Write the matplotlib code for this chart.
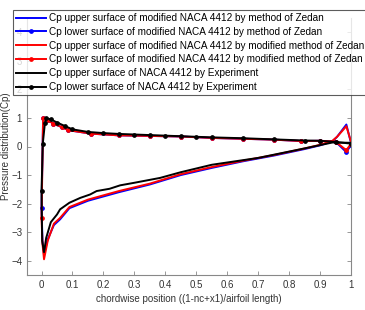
"""
Cp distribution of NACA 4412 vs modified NACA 4412 (method of Zedan).
"""

import matplotlib
matplotlib.use("Agg")
import matplotlib.pyplot as plt

plt.rcParams["font.family"] = ["Liberation Sans", "DejaVu Sans"]

# --- data ------------------------------------------------------------------
# method of Zedan (blue)
x_zedan_up = [0, 0.003, 0.008, 0.02, 0.04, 0.06, 0.09, 0.15, 0.25, 0.35,
              0.45, 0.55, 0.65, 0.75, 0.85, 0.9, 0.94, 0.955, 0.985, 1.0]
cp_zedan_up = [-2.15, -3.3, -3.78, -3.25, -2.75, -2.55, -2.16, -1.9, -1.6,
               -1.33, -1.0, -0.75, -0.52, -0.32, -0.09, 0.04, 0.18, 0.34,
               0.77, 0.12]
x_zedan_lo = [0, 0.005, 0.02, 0.038, 0.065, 0.087, 0.16, 0.25, 0.35, 0.45,
              0.55, 0.65, 0.75, 0.84, 0.9, 0.95, 0.985, 1.0]
cp_zedan_lo = [-2.15, 1.0, 0.93, 0.8, 0.68, 0.57, 0.45, 0.39, 0.37, 0.35,
               0.3, 0.27, 0.24, 0.19, 0.2, 0.17, -0.2, 0.05]

# modified method of Zedan (red)
x_mod_up = x_zedan_up
cp_mod_up = [-2.5, -3.4, -3.95, -3.3, -2.7, -2.5, -2.12, -1.86, -1.56, -1.3,
             -0.97, -0.72, -0.5, -0.3, -0.07, 0.06, 0.2, 0.34, 0.71, 0.17]
x_mod_lo = x_zedan_lo
cp_mod_lo = [-2.5, 1.0, 0.93, 0.8, 0.68, 0.57, 0.45, 0.39, 0.37, 0.35,
             0.3, 0.27, 0.24, 0.19, 0.2, 0.17, -0.13, 0.1]

# experiment (black)
x_exp_up = [0, 0.002, 0.008, 0.015, 0.03, 0.05, 0.06, 0.09, 0.125, 0.157,
            0.178, 0.22, 0.254, 0.3, 0.383, 0.45, 0.55, 0.7, 0.835, 0.94, 1.0]
cp_exp_up = [-1.55, -3.3, -3.7, -3.2, -2.65, -2.38, -2.2, -1.97, -1.8, -1.68,
             -1.56, -1.48, -1.36, -1.27, -1.1, -0.9, -0.64, -0.4, -0.1, 0.14,
             0.13]
x_exp_lo = [0, 0.004, 0.011, 0.016, 0.03, 0.05, 0.075, 0.1, 0.15, 0.2, 0.25,
            0.3, 0.35, 0.4, 0.45, 0.5, 0.55, 0.65, 0.75, 0.85, 0.9, 0.95, 1.0]
cp_exp_lo = [-1.55, 0.1, 0.83, 0.99, 0.95, 0.84, 0.72, 0.6, 0.51, 0.47, 0.44,
             0.42, 0.4, 0.38, 0.36, 0.34, 0.32, 0.29, 0.25, 0.21, 0.2, 0.16,
             0.1]

x_ticks = [0, 0.1, 0.2, 0.3, 0.4, 0.5, 0.6, 0.7, 0.8, 0.9, 1]
x_tick_labels = ["0", "0.1", "0.2", "0.3", "0.4", "0.5", "0.6", "0.7", "0.8",
                 "0.9", "1"]
y_ticks = [-4, -3, -2, -1, 0, 1, 2, 3, 4]

LABELS = [
    "Cp upper surface of modified NACA 4412 by method of Zedan",
    "Cp lower surface of modified NACA 4412 by method of Zedan",
    "Cp upper surface of modified NACA 4412 by modified method of Zedan",
    "Cp lower surface of modified NACA 4412 by modified method of Zedan",
    "Cp upper surface of NACA 4412 by Experiment",
    "Cp lower surface of NACA 4412 by Experiment",
]


def main() -> None:
    fig = plt.figure(figsize=(3.65, 3.10), dpi=100)
    ax = fig.add_axes([27 / 365, 35 / 310, 324 / 365, 257 / 310])

    series = [
        (x_zedan_up, cp_zedan_up, "#0000ff", None),
        (x_zedan_lo, cp_zedan_lo, "#0000ff", "o"),
        (x_mod_up, cp_mod_up, "#ff0000", None),
        (x_mod_lo, cp_mod_lo, "#ff0000", "o"),
        (x_exp_up, cp_exp_up, "#000000", None),
        (x_exp_lo, cp_exp_lo, "#000000", "o"),
    ]
    for (x, y, color, marker), label in zip(series, LABELS):
        ax.plot(x, y, color=color, lw=1.4, marker=marker, markersize=2.4,
                label=label)

    ax.set_xlim(-0.047, 1.0)
    ax.set_ylim(-4.5, 4.5)
    ax.set_xticks(x_ticks)
    ax.set_xticklabels(x_tick_labels)
    ax.set_yticks(y_ticks)
    ax.tick_params(direction="in", length=3, width=0.6, colors="#888888",
                   labelcolor="#333333", labelsize=7, right=True)
    for side in ("left", "right", "bottom"):
        ax.spines[side].set_color("#888888")
        ax.spines[side].set_linewidth(0.8)
    ax.spines["top"].set_visible(False)

    ax.set_xlabel("chordwise position ((1-nc+x1)/airfoil length)",
                  fontsize=7, color="#333333", labelpad=3)
    ax.set_ylabel("Pressure distribution(Cp)", fontsize=7, color="#333333",
                  labelpad=0)

    leg = fig.legend(loc="upper left", bbox_to_anchor=(13 / 365, 1 - 10 / 310),
                     fontsize=7.2, frameon=True, fancybox=False,
                     handlelength=3.0, handletextpad=0.3, labelspacing=0.38,
                     borderpad=0.3, borderaxespad=0)
    leg.get_frame().set_edgecolor("#333333")
    leg.get_frame().set_linewidth(0.8)
    leg.set_zorder(10)

    fig.savefig("out.png", dpi=100)
    plt.close(fig)


if __name__ == "__main__":
    main()
